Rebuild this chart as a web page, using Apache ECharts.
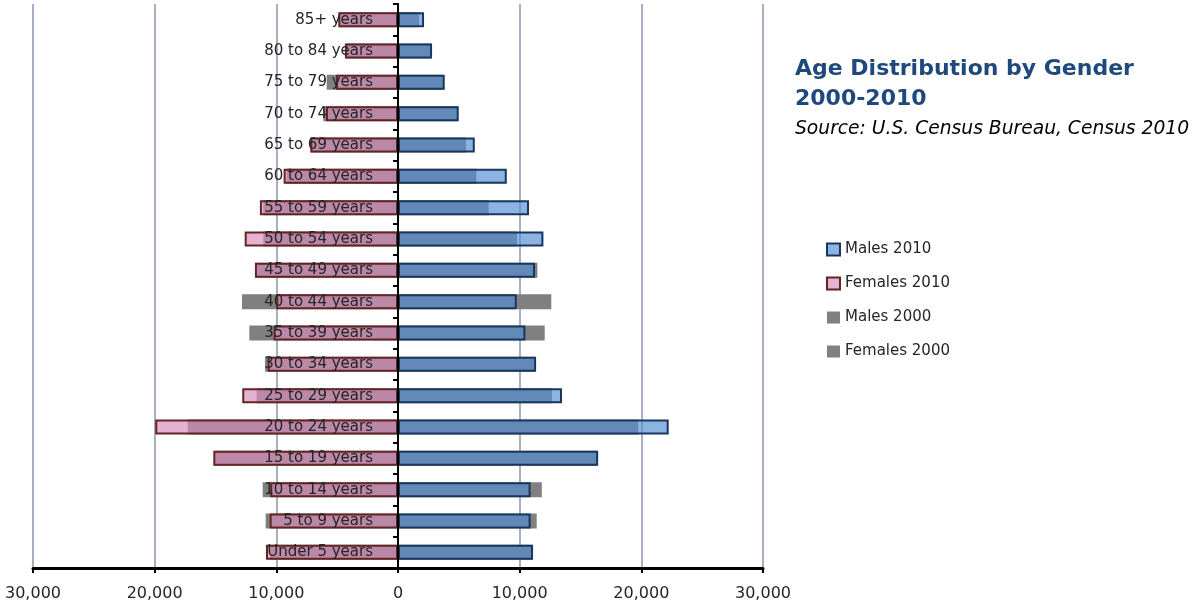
<!DOCTYPE html>
<html>
<head>
<meta charset="utf-8">
<style>
  html, body { margin: 0; padding: 0; background: #fff; }
  #chart { width: 1193px; height: 604px; }
</style>
<script src="https://cdn.jsdelivr.net/npm/echarts@6/dist/echarts.min.js"></script>
</head>
<body>
<div id="chart"></div>
<script>
const categories = ['Under 5 years','5 to 9 years','10 to 14 years','15 to 19 years','20 to 24 years','25 to 29 years','30 to 34 years','35 to 39 years','40 to 44 years','45 to 49 years','50 to 54 years','55 to 59 years','60 to 64 years','65 to 69 years','70 to 74 years','75 to 79 years','80 to 84 years','85+ years'];
const males2010   = [11100, 10900, 10900, 16450, 22250, 13480, 11350, 10470, 9760, 11260, 11950, 10770, 8940, 6310, 4990, 3840, 2800, 2140];
const males2000   = [11050, 11400, 11820, 16400, 19750, 12660, 11300, 12060, 12600, 11460, 9780, 7450, 6440, 5590, 4900, 3730, 2700, 1730];
const females2010 = [10850, 10550, 10500, 15180, 19950, 12800, 10710, 10220, 10010, 11760, 12600, 11350, 9400, 7210, 5920, 5100, 4360, 4910];
const females2000 = [10520, 10880, 11120, 15100, 17290, 11620, 10930, 12220, 12820, 11700, 11070, 11070, 9150, 7150, 6140, 5860, 4300, 4850];
const xTicks = { min: -30000, max: 30000, interval: 10000 };

const neg = a => a.map(v => -v);
const labelFont = 'DejaVu Sans';

const chart = echarts.init(document.getElementById('chart'), null, { renderer: 'canvas' });
chart.setOption({
  animation: false,
  backgroundColor: '#ffffff',
  title: {
    text: 'Age Distribution by Gender\n2000-2010',
    subtext: 'Source: U.S. Census Bureau, Census 2010',
    left: 795, top: 54, itemGap: 5, padding: 0,
    textStyle: { fontFamily: 'DejaVu Sans', fontWeight: 'bold', fontSize: 22, lineHeight: 30, color: '#1F497D' },
    subtextStyle: { fontFamily: 'DejaVu Sans', fontStyle: 'italic', fontSize: 18.7, lineHeight: 20, color: '#000000' }
  },
  legend: {
    orient: 'vertical', left: 826, top: 242, itemGap: 19,
    itemWidth: 13, itemHeight: 12, icon: 'rect', padding: 0,
    textStyle: { fontFamily: labelFont, fontSize: 15, color: '#262626' },
    data: [
      { name: 'Males 2010', itemStyle: { color: '#8DB3E3', borderColor: '#17375E', borderWidth: 2 } },
      { name: 'Females 2010', itemStyle: { color: '#E6B3D2', borderColor: '#632523', borderWidth: 2 } },
      { name: 'Males 2000', itemStyle: { color: '#808080', borderWidth: 0 } },
      { name: 'Females 2000', itemStyle: { color: '#808080', borderWidth: 0 } }
    ]
  },
  grid: { left: 33, right: 430, top: 4, bottom: 36, containLabel: false, outerBoundsMode: 'none' },
  xAxis: {
    type: 'value', min: xTicks.min, max: xTicks.max, interval: xTicks.interval,
    axisLine: { show: true, lineStyle: { color: '#000', width: 3 } },
    axisTick: { show: true, length: 5, lineStyle: { color: '#000', width: 2 } },
    axisLabel: {
      margin: 18, fontFamily: labelFont, fontSize: 16, color: '#262626',
      formatter: v => Math.abs(v).toLocaleString('en-US')
    },
    splitLine: { show: true, lineStyle: { color: '#A8AFC2', width: 2 } }
  },
  yAxis: {
    type: 'category', data: categories, z: 5, position: 'left', offset: -365,
    axisLine: { show: true, onZero: false, lineStyle: { color: '#000', width: 2 } },
    axisTick: { show: true, length: 5, lineStyle: { color: '#000', width: 2 } },
    axisLabel: { margin: 25, fontFamily: labelFont, fontSize: 15, color: '#262626' },
    splitLine: { show: false }
  },
  series: [
    { name: 'Males 2000', type: 'bar', data: males2000, barWidth: 15, barGap: '-100%',
      itemStyle: { color: '#808080' } },
    { name: 'Females 2000', type: 'bar', data: neg(females2000), barWidth: 15, barGap: '-100%',
      itemStyle: { color: '#808080' } },
    { name: 'Males 2010', type: 'bar', data: males2010, barWidth: 15, barGap: '-100%',
      itemStyle: { color: 'rgba(85,142,213,0.67)', borderColor: '#17375E', borderWidth: 2 } },
    { name: 'Females 2010', type: 'bar', data: neg(females2010), barWidth: 15, barGap: '-100%',
      itemStyle: { color: 'rgba(216,140,188,0.67)', borderColor: '#632523', borderWidth: 2 } }
  ]
});
</script>
</body>
</html>
